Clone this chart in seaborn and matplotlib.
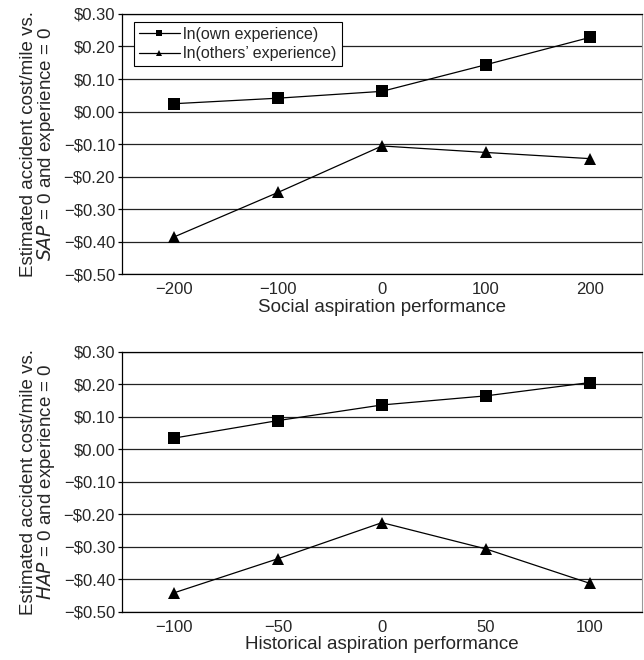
import numpy as np
import pandas as pd
import matplotlib
matplotlib.use("Agg")
import matplotlib.pyplot as plt
import seaborn as sns
from matplotlib.lines import Line2D
from matplotlib.ticker import FuncFormatter

sns.set_theme(style="white")
plt.rcParams['font.family'] = ['Liberation Sans', 'DejaVu Sans']

# Data
sap_x = [-200, -100, 0, 100, 200]
sap_own = [0.024, 0.041, 0.062, 0.144, 0.228]
sap_others = [-0.386, -0.249, -0.106, -0.126, -0.145]

hap_x = [-100, -50, 0, 50, 100]
hap_own = [0.034, 0.088, 0.136, 0.164, 0.205]
hap_others = [-0.442, -0.337, -0.226, -0.307, -0.413]

series_names = ["ln(own experience)", "ln(others\u2019 experience)"]
y_ticks = [0.30, 0.20, 0.10, 0.00, -0.10, -0.20, -0.30, -0.40, -0.50]

def money(v, pos):
    if abs(v) < 1e-9:
        return "$0.00"
    s = "\u2212$" if v < 0 else "$"
    return f"{s}{abs(v):.2f}"

fig = plt.figure(figsize=(6.44, 6.60), dpi=100)
ax1 = fig.add_axes([0.1894, 0.5848, 0.8075, 0.394])
ax2 = fig.add_axes([0.1894, 0.0732, 0.8075, 0.394])

def make_df(x, own, others):
    return pd.DataFrame({
        "x": list(x) * 2,
        "y": list(own) + list(others),
        "series": [series_names[0]] * len(x) + [series_names[1]] * len(x),
    })

panels = [
    (ax1, make_df(sap_x, sap_own, sap_others), sap_x, (-250, 250),
     "Social aspiration performance", "SAP"),
    (ax2, make_df(hap_x, hap_own, hap_others), hap_x, (-125, 125),
     "Historical aspiration performance", "HAP"),
]

for ax, df, xt, xl, xlabel, abbr in panels:
    for yv in y_ticks:
        ax.axhline(yv, color="#222222", lw=0.9, zorder=0)
    sns.lineplot(data=df, x="x", y="y", hue="series", style="series",
                 palette=["black", "black"],
                 markers={series_names[0]: "s", series_names[1]: "^"},
                 dashes=False, lw=0.9, markersize=9, markeredgewidth=0,
                 ax=ax, legend=False, zorder=3)
    ax.set_xlim(*xl)
    ax.set_ylim(-0.5, 0.3)
    ax.set_xticks(xt)
    ax.set_xticklabels([str(v).replace("-", "\u2212") for v in xt])
    ax.set_yticks(y_ticks)
    ax.yaxis.set_major_formatter(FuncFormatter(money))
    ax.tick_params(axis="y", which="major", left=True, length=3, width=0.9,
                   color="black", labelsize=12, pad=2)
    ax.tick_params(axis="x", which="major", bottom=False, length=0,
                   labelsize=12, pad=6)
    ax.set_xlabel(xlabel, fontsize=13.5, labelpad=1)
    ax.set_ylabel("Estimated accident cost/mile vs.\n"
                  f"$\\mathit{{{abbr}}}$ = 0 and experience = 0",
                  fontsize=13.5, labelpad=5, linespacing=0.88)
    for side in ["left", "bottom", "top"]:
        ax.spines[side].set_visible(True)
        ax.spines[side].set_color("black")
        ax.spines[side].set_linewidth(0.9)
    ax.spines["right"].set_visible(True)
    ax.spines["right"].set_color("#999999")
    ax.spines["right"].set_linewidth(0.8)

handles = [
    Line2D([], [], color="black", lw=0.9, marker="s", markersize=5, markeredgewidth=0),
    Line2D([], [], color="black", lw=0.9, marker="^", markersize=5, markeredgewidth=0),
]
leg = ax1.legend(handles, series_names, loc="upper left",
                 bbox_to_anchor=(0.023, 0.97), fontsize=11.5,
                 frameon=True, fancybox=False, edgecolor="black",
                 framealpha=1, borderpad=0.3, labelspacing=0.3,
                 handlelength=2.6, handletextpad=0.2, borderaxespad=0)
leg.get_frame().set_linewidth(0.8)

fig.savefig("out.png", dpi=100)
